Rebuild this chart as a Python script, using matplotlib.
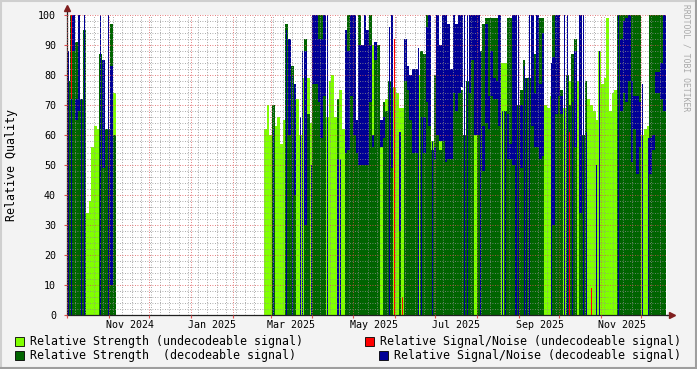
import datetime as dt
import matplotlib
matplotlib.use('Agg')
import matplotlib.pyplot as plt
import matplotlib.dates as mdates
from matplotlib.patches import Rectangle
from matplotlib.lines import Line2D
from matplotlib.ticker import MultipleLocator, FixedLocator, NullFormatter

start = dt.date(2024, 10, 1)
span_days = 445

# 2-day bins over the two periods with data (days since start)
bin_day = list(range(0, 36, 2)) + list(range(146, 444, 2))

# relative strength, undecodeable signal (light green)
strength_und = [0, 0, 0, 0, 0, 0, 0, 34, 38, 56, 63, 62, 0, 0, 62, 0, 74, 74,
                62, 70, 60, 0, 63, 66, 57, 65, 0, 0,
                52, 0, 72, 60, 79, 0, 79, 64, 0, 0,
                0, 0, 0, 66, 78, 80, 66, 0, 75, 62,
                0, 0, 0, 69, 0, 0, 0, 0, 0, 0,
                90, 0, 83, 63, 0, 72, 0, 0, 76, 74,
                69, 69, 0, 0, 65, 0, 69, 80, 73, 69,
                55, 63, 58, 52, 0, 80, 0, 0, 0, 82,
                0, 79, 79, 0, 0, 0, 0, 88, 88, 0,
                0, 93, 0, 0, 0, 0, 0, 74, 84, 84,
                0, 0, 0, 0, 0, 0, 63, 63, 0, 0,
                0, 0, 0, 0, 70, 69, 73, 0, 0, 0,
                69, 69, 0, 78, 80, 0, 78, 69, 0, 73,
                72, 70, 68, 65, 88, 77, 79, 99, 68, 74,
                75, 52, 0, 0, 0, 0, 0, 0, 0, 0,
                60, 62, 63, 0, 0, 0, 0, 0, 0]

# relative strength, decodeable signal (dark green)
strength_dec = [78, 100, 100, 91, 100, 72, 95, 0, 0, 0, 0, 0, 87, 85, 62, 62, 97, 60,
                0, 0, 0, 70, 0, 0, 0, 0, 97, 90,
                83, 60, 0, 0, 0, 92, 67, 0, 100, 100,
                100, 100, 100, 0, 0, 0, 0, 72, 0, 0,
                68, 100, 91, 70, 63, 100, 90, 100, 84, 100,
                60, 91, 90, 0, 71, 68, 78, 60, 0, 0,
                61, 0, 92, 81, 77, 54, 54, 0, 88, 87,
                100, 70, 55, 80, 88, 55, 85, 73, 97, 73,
                79, 80, 79, 75, 60, 78, 79, 85, 0, 98,
                88, 97, 99, 99, 99, 99, 99, 99, 0, 68,
                99, 99, 60, 76, 70, 75, 85, 79, 79, 87,
                87, 74, 99, 99, 0, 0, 0, 100, 83, 75,
                75, 0, 80, 70, 87, 92, 0, 97, 60, 78,
                0, 0, 0, 0, 0, 0, 0, 0, 0, 0,
                0, 100, 100, 100, 100, 100, 100, 100, 100, 100,
                0, 0, 0, 100, 100, 100, 100, 100, 100]

# relative signal/noise, decodeable signal (blue): low / high within each bin
sn_dec_lo = [0, 0, 88, 65, 68, 0, 0, 0, 0, 0, 0, 0, 0, 49, 0, 0, 10, 0,
             0, 0, 0, 0, 0, 0, 0, 0, 0, 60,
             0, 40, 0, 0, 0, 30, 0, 0, 77, 77,
             71, 59, 73, 0, 0, 0, 0, 0, 0, 0,
             54, 55, 73, 60, 54, 50, 50, 50, 50, 71,
             56, 85, 0, 56, 59, 0, 0, 49, 0, 0,
             28, 0, 78, 75, 65, 54, 54, 0, 0, 54,
             71, 63, 0, 52, 60, 58, 58, 51, 52, 52,
             74, 68, 74, 76, 0, 0, 74, 85, 60, 60,
             0, 48, 64, 62, 73, 72, 72, 63, 0, 0,
             52, 52, 50, 0, 0, 49, 0, 0, 0, 63,
             56, 56, 52, 53, 0, 0, 0, 30, 67, 73,
             67, 0, 0, 0, 0, 56, 0, 34, 0, 0,
             0, 0, 0, 0, 0, 0, 0, 0, 0, 0,
             0, 0, 68, 74, 71, 78, 51, 62, 47, 56,
             0, 0, 0, 47, 55, 74, 74, 72, 68]
sn_dec_hi = [88, 100, 100, 72, 100, 72, 100, 0, 0, 0, 0, 0, 100, 85, 0, 100, 83, 0,
             0, 0, 0, 62, 0, 0, 0, 0, 95, 92,
             80, 77, 0, 66, 88, 88, 0, 50, 100, 100,
             92, 92, 100, 100, 0, 0, 0, 52, 52, 0,
             95, 88, 100, 100, 65, 90, 90, 100, 95, 90,
             60, 91, 0, 65, 66, 0, 96, 100, 0, 0,
             61, 0, 92, 83, 80, 82, 82, 89, 66, 66,
             96, 100, 58, 56, 100, 90, 100, 100, 97, 82,
             100, 97, 100, 100, 100, 100, 100, 100, 100, 100,
             88, 63, 97, 73, 88, 79, 78, 100, 68, 68,
             67, 57, 100, 100, 100, 70, 83, 79, 100, 100,
             74, 100, 77, 94, 0, 0, 84, 86, 100, 100,
             73, 100, 100, 0, 71, 88, 0, 100, 100, 61,
             0, 0, 0, 50, 88, 0, 0, 0, 0, 0,
             0, 100, 92, 98, 99, 100, 78, 73, 73, 71,
             77, 0, 59, 59, 60, 81, 81, 84, 100]

# relative signal/noise, undecodeable signal (red) - only a few spikes
red_day = [2, 242, 248, 372, 388]
red_lo = [72, 0, 0, 0, 0]
red_hi = [100, 92, 6, 61, 9]

label_months = [(2024, 11, 'Nov 2024'), (2025, 1, 'Jan 2025'), (2025, 3, 'Mar 2025'),
                (2025, 5, 'May 2025'), (2025, 7, 'Jul 2025'), (2025, 9, 'Sep 2025'),
                (2025, 11, 'Nov 2025')]

C_UND = '#80FF00'
C_RED = '#FF0000'
C_DEC = '#006400'
C_BLUE = '#000096'
MONO = 'DejaVu Sans Mono'

W, H = 697, 369
fig = plt.figure(figsize=(W / 100, H / 100), dpi=100, facecolor='#F3F3F3')
ax = fig.add_axes([67 / W, 54 / H, 600 / W, 300 / H])
ax.set_facecolor('white')

x0 = mdates.date2num(start)
xs = [x0 + d for d in bin_day]

ax.bar(xs, strength_und, width=2, align='edge', color=C_UND, linewidth=0, antialiased=False, zorder=1)
ax.bar(xs, strength_dec, width=2, align='edge', color=C_DEC, linewidth=0, antialiased=False, zorder=1.1)

# blue: wide bands where S/N stays high, thin lines where it drops to zero
for x, lo, hi in zip(xs, sn_dec_lo, sn_dec_hi):
    if hi <= 0:
        continue
    if lo > 0:
        ax.bar(x, hi - lo, bottom=lo, width=2, align='edge', color=C_BLUE,
               linewidth=0, antialiased=False, zorder=1.2)
    else:
        ax.bar(x + 0.6, hi, width=0.8, align='edge', color=C_BLUE,
               linewidth=0, antialiased=False, zorder=1.2)

ax.bar([x0 + d + 0.6 for d in red_day], [h - l for l, h in zip(red_lo, red_hi)], bottom=red_lo,
       width=0.8, align='edge', color=C_RED, linewidth=0, antialiased=False, zorder=1.3)

ax.set_xlim(x0, x0 + span_days)
ax.set_ylim(0, 100)

# grid like rrdtool: grey dotted minor, red dotted major, drawn over the areas
ax.xaxis.set_major_locator(mdates.MonthLocator())
ax.xaxis.set_minor_locator(mdates.WeekdayLocator(byweekday=mdates.MO))
ax.xaxis.set_major_formatter(NullFormatter())
ax.yaxis.set_major_locator(MultipleLocator(10))
ax.yaxis.set_minor_locator(FixedLocator([v for v in range(2, 100, 2) if v % 10]))
ax.set_axisbelow(False)
ax.grid(which='minor', color=(0.56, 0.56, 0.56, 0.3), linestyle=(0, (1, 2)), linewidth=0.6)
ax.grid(which='major', color=(0.87, 0.31, 0.31, 0.45), linestyle=(0, (1, 2)), linewidth=0.6)
ax.tick_params(which='major', length=2, color=(0.87, 0.31, 0.31), width=0.8)
ax.tick_params(which='minor', length=0)
ax.tick_params(axis='y', labelsize=7.2, pad=6)
for lab in ax.get_yticklabels():
    lab.set_fontfamily(MONO)

for s in ['top', 'right']:
    ax.spines[s].set_visible(False)
for s in ['left', 'bottom']:
    ax.spines[s].set_color('#202020')
    ax.spines[s].set_linewidth(0.9)

# axis arrows
ax.add_line(Line2D([1.0, 1.006], [0, 0], transform=ax.transAxes, color='#202020', lw=0.9, clip_on=False))
ax.plot([1.008], [0], marker='>', ms=4.5, color='#801F1F', transform=ax.transAxes, clip_on=False)
ax.add_line(Line2D([0, 0], [1.0, 1.02], transform=ax.transAxes, color='#202020', lw=0.9, clip_on=False))
ax.plot([0], [1.022], marker='^', ms=4.5, color='#801F1F', transform=ax.transAxes, clip_on=False)

# month labels centred mid-month
for yr, mo, txt in label_months:
    xm = mdates.date2num(dt.date(yr, mo, 1)) + 15.5
    ax.text(xm, -3.3, txt, ha='center', va='center', fontsize=7.2, family=MONO)

fig.text(12 / W, 1 - 165 / H, 'Relative Quality', rotation=90, ha='center', va='center',
         fontsize=8.4, family=MONO)
fig.text(686 / W, 1 - 4 / H, 'RRDTOOL / TOBI OETIKER', rotation=270, ha='center', va='top',
         fontsize=5.8, family=MONO, color='#A8A8A8')

# legend (rrdtool style, justified rows)
legend = [(15, 341, C_UND, 'Relative Strength (undecodeable signal)'),
          (365, 341, C_RED, 'Relative Signal/Noise (undecodeable signal)'),
          (15, 355, C_DEC, 'Relative Strength  (decodeable signal)'),
          (379, 355, C_BLUE, 'Relative Signal/Noise (decodeable signal)')]
for px, py, col, txt in legend:
    fig.patches.append(Rectangle((px / W, 1 - (py + 5) / H), 9 / W, 9 / H, transform=fig.transFigure,
                                 facecolor=col, edgecolor='black', linewidth=0.6))
    fig.text((px + 15) / W, 1 - py / H, txt, ha='left', va='center', fontsize=8.42, family=MONO)

# shaded frame
fig.add_artist(Line2D([0, 1], [1 - 1 / H, 1 - 1 / H], transform=fig.transFigure, color='#CFCFCF', lw=1.5))
fig.add_artist(Line2D([1 / W, 1 / W], [0, 1], transform=fig.transFigure, color='#CFCFCF', lw=1.5))
fig.add_artist(Line2D([0, 1], [1 / H, 1 / H], transform=fig.transFigure, color='#9E9E9E', lw=1.5))
fig.add_artist(Line2D([1 - 1 / W, 1 - 1 / W], [0, 1], transform=fig.transFigure, color='#9E9E9E', lw=1.5))

fig.savefig('out.png', dpi=100, facecolor=fig.get_facecolor())
